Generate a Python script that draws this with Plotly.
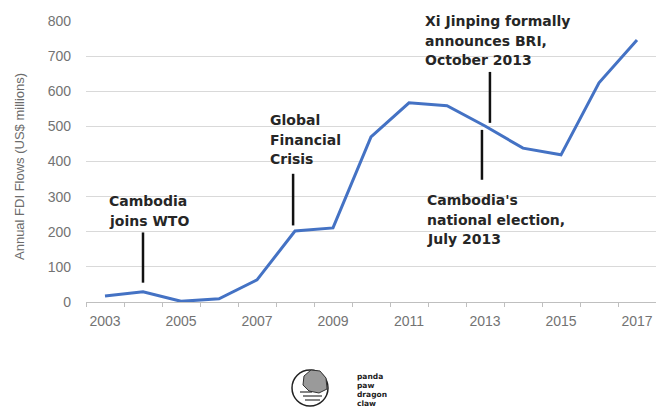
import plotly.graph_objects as go

years = list(range(2003, 2018))
fdi = [17, 29, 2, 9, 63, 202, 211, 470, 567, 559, 501, 438, 419, 624, 746]
x_ticks = [2003, 2005, 2007, 2009, 2011, 2013, 2015, 2017]
y_ticks = [0, 100, 200, 300, 400, 500, 600, 700, 800]
y_title = "Annual FDI Flows (US$ millions)"

# plot area in pixels
L, R, T, B = 86, 656, 21, 302
W, H = 656, 413


def px(x):
    return (x - L) / (R - L)


def py(y):
    return (B - y) / (B - T)


fig = go.Figure()
fig.add_trace(go.Scatter(x=years, y=fdi, mode="lines",
                         line=dict(color="#4472C4", width=3), hoverinfo="skip"))

ann_font = dict(family="DejaVu Sans", size=14, color="#262626")
events = [
    # (line x, y0, y1 in data units, text lines, text left px, first line centre px)
    (2004.0, 55, 198, ["Cambodia", "joins WTO"], 107, 201),
    (2007.95, 218, 365, ["Global", "Financial", "Crisis"], 268, 120),
    (2013.13, 510, 655, ["Xi Jinping formally", "announces BRI,", "October 2013"], 423, 21),
    (2012.92, 348, 490, ["Cambodia's", "national election,", "July 2013"], 425, 200),
]
for lx, y0, y1, lines, tx, ty in events:
    fig.add_shape(type="line", x0=lx, x1=lx, y0=y0, y1=y1, xref="x", yref="y",
                  line=dict(color="#111111", width=2.5))
    for i, ln in enumerate(lines):
        fig.add_annotation(x=px(tx), y=py(ty + i * 19.5), xref="paper", yref="paper",
                           text="<b>" + ln + "</b>", showarrow=False,
                           xanchor="left", yanchor="middle", align="left", font=ann_font)

# y-axis title
fig.add_annotation(x=px(19), y=py(167), xref="paper", yref="paper", text=y_title,
                   textangle=-90, showarrow=False, xanchor="center", yanchor="middle",
                   font=dict(family="Liberation Sans", size=13, color="#6b6b6b"))

# logo
fig.add_shape(type="circle", xref="paper", yref="paper",
              x0=px(292), x1=px(328), y0=py(406), y1=py(370),
              line=dict(color="#222222", width=1.5))
blob = [(304, 376), (311, 370), (320, 371), (326, 378), (327, 389), (319, 393),
        (309, 391), (303, 385)]
path = "M " + " L ".join(f"{px(a):.5f},{py(b):.5f}" for a, b in blob) + " Z"
fig.add_shape(type="path", path=path, xref="paper", yref="paper",
              fillcolor="#9a9a9a", line=dict(color="#333333", width=1))
for yy, x0, x1 in [(396, 303, 322), (400, 305, 320), (392, 300, 312)]:
    fig.add_shape(type="line", xref="paper", yref="paper", x0=px(x0), x1=px(x1),
                  y0=py(yy), y1=py(yy), line=dict(color="#333333", width=1.2))
for i, w in enumerate(["panda", "paw", "dragon", "claw"]):
    fig.add_annotation(x=px(356), y=py(376 + i * 9), xref="paper", yref="paper",
                       text="<b>" + w + "</b>", showarrow=False, xanchor="left",
                       yanchor="middle", borderpad=0,
                       font=dict(family="DejaVu Sans", size=7.5, color="#222222"))

fig.update_layout(
    width=W, height=H,
    margin=dict(l=L, r=W - R, t=T, b=H - B, autoexpand=False),
    paper_bgcolor="white", plot_bgcolor="white",
    showlegend=False,
    xaxis=dict(range=[2002.5, 2017.5], tickvals=x_ticks, ticktext=[str(v) for v in x_ticks],
               showgrid=False, showline=True, linecolor="#bfbfbf", linewidth=1,
               ticks="", ticklabelstandoff=6, automargin=False,
               minor=dict(tickvals=[y + 0.5 for y in range(2002, 2018)], ticks="outside",
                          ticklen=4, tickcolor="#bfbfbf", showgrid=False),
               tickfont=dict(family="Liberation Sans", size=14, color="#737373"),
               zeroline=False),
    yaxis=dict(range=[0, 800], tickvals=y_ticks, showgrid=True, gridcolor="#d9d9d9",
               gridwidth=1, zeroline=False, showline=False, ticks="", automargin=False,
               ticklabelstandoff=14,
               tickfont=dict(family="Liberation Sans", size=14, color="#737373")),
)
fig.write_html("out.html", config={"displayModeBar": False},
               post_script="document.body.style.margin='0px';")
